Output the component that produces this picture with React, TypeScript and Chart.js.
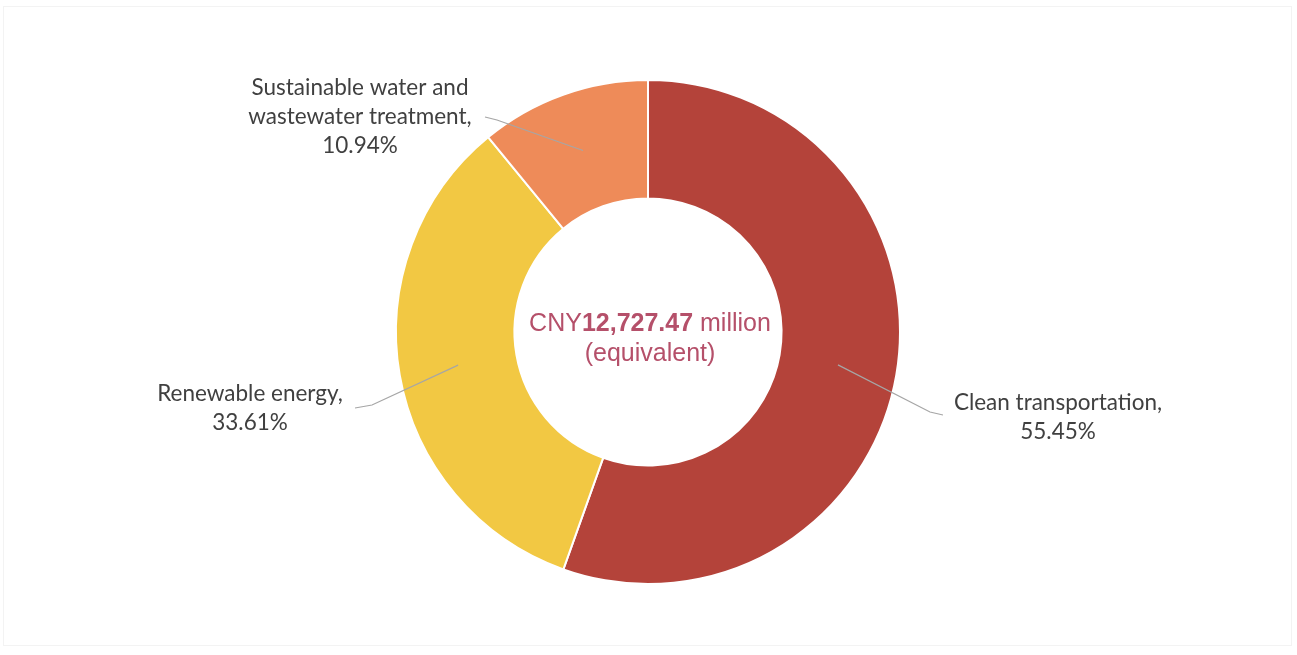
import React, { useEffect, useRef } from "react";
import { Chart, registerables } from "chart.js";

Chart.register(...registerables);

const categories = ["Clean transportation", "Renewable energy", "Sustainable water and wastewater treatment"];
const shares = [55.45, 33.61, 10.94];
const sliceColors = ["#B4433A", "#F2C843", "#EE8B59"];
const labelLines = [
  ["Clean transportation,", "55.45%"],
  ["Renewable energy,", "33.61%"],
  ["Sustainable water and", "wastewater treatment,", "10.94%"],
];
const centerPrefix = "CNY";
const centerAmount = "12,727.47";
const centerSuffix = " million";
const centerLine2 = "(equivalent)";

// label layout, relative to chart centre (dx, dy of first line), and leader ends
const labelLayout = [
  { dx: 410, dy: 71, end: [295, 83], elbow: [282, 80] },
  { dx: -398, dy: 62, end: [-293, 76], elbow: [-276, 73] },
  { dx: -288, dy: -244, end: [-163, -215], elbow: [-151, -212] },
];

const labelPlugin = {
  id: "labels",
  afterDraw(chart: any) {
    const ctx = chart.ctx;
    const meta = chart.getDatasetMeta(0);
    const first = meta.data[0];
    const cx = first.x;
    const cy = first.y;
    ctx.save();
    meta.data.forEach((arc: any, i: number) => {
      const p = arc.tooltipPosition();
      const L = labelLayout[i];
      ctx.beginPath();
      ctx.moveTo(p.x, p.y);
      ctx.lineTo(cx + L.elbow[0], cy + L.elbow[1]);
      ctx.lineTo(cx + L.end[0], cy + L.end[1]);
      ctx.strokeStyle = "#A6A6A6";
      ctx.lineWidth = 1.2;
      ctx.stroke();
    });
    ctx.fillStyle = "#404040";
    ctx.font = "22.5px Lato";
    ctx.textAlign = "center";
    ctx.textBaseline = "middle";
    labelLines.forEach((lines, i) => {
      const L = labelLayout[i];
      lines.forEach((t, j) => {
        ctx.fillText(t, cx + L.dx, cy + L.dy + j * 29);
      });
    });
    const regular = "25px 'Liberation Sans'";
    const bold = "bold 25px 'Liberation Sans'";
    ctx.fillStyle = "#B5506A";
    ctx.font = regular;
    const w1 = ctx.measureText(centerPrefix).width;
    const w3 = ctx.measureText(centerSuffix).width;
    ctx.font = bold;
    const w2 = ctx.measureText(centerAmount).width;
    const tx = cx + 2;
    let x = tx - (w1 + w2 + w3) / 2;
    const y1 = cy - 8;
    ctx.textAlign = "left";
    ctx.font = regular;
    ctx.fillText(centerPrefix, x, y1);
    x += w1;
    ctx.font = bold;
    ctx.fillText(centerAmount, x, y1);
    x += w2;
    ctx.font = regular;
    ctx.fillText(centerSuffix, x, y1);
    ctx.textAlign = "center";
    ctx.fillText(centerLine2, tx, cy + 22);
    ctx.restore();
  },
};

export default function App() {
  const ref = useRef<HTMLCanvasElement>(null);
  useEffect(() => {
    document.body.style.margin = "0";
    const chart = new Chart(ref.current!, {
      type: "doughnut",
      data: {
        labels: categories,
        datasets: [
          {
            data: shares,
            backgroundColor: sliceColors,
            borderColor: "#FFFFFF",
            borderWidth: 2,
          },
        ],
      },
      options: {
        responsive: false,
        animation: false,
        cutout: "53%",
        layout: { padding: { left: 395, right: 396, top: 79, bottom: 70 } },
        plugins: { legend: { display: false }, tooltip: { enabled: false } },
      },
      plugins: [labelPlugin],
    });
    return () => chart.destroy();
  }, []);
  return (
    <div style={{ position: "relative", width: 1297, height: 655, background: "#fff" }}>
      <div
        style={{
          position: "absolute",
          left: 3,
          top: 6,
          width: 1289,
          height: 640,
          border: "1px solid #F3F3F3",
          boxSizing: "border-box",
        }}
      />
      <canvas ref={ref} width={1297} height={655} style={{ position: "absolute", left: 0, top: 0 }} />
    </div>
  );
}
